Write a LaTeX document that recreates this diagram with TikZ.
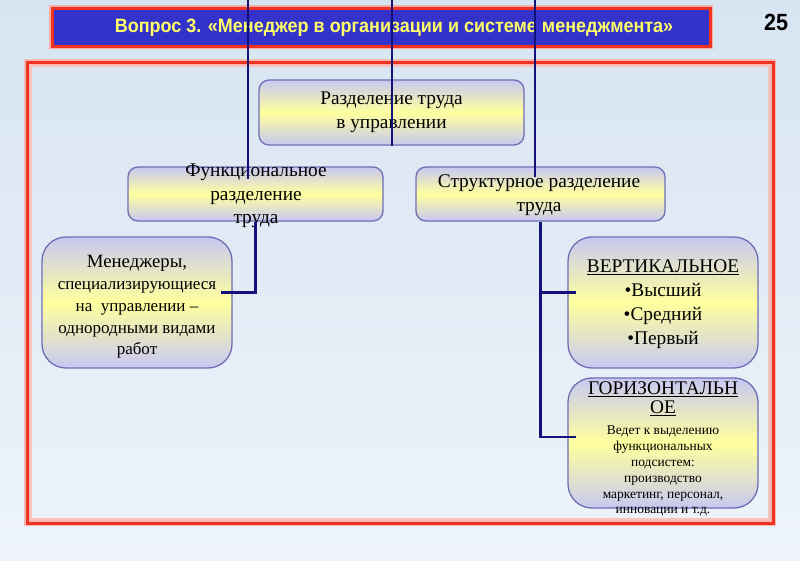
\documentclass[tikz,border=0pt]{standalone}
\usepackage{fontspec}
\setmainfont{Liberation Serif}
\newfontfamily\arialfont{Liberation Sans}
\usetikzlibrary{calc}

\newlength\px
\setlength\px{0.03cm}

\definecolor{bgblue}{HTML}{D7E4F2}
\definecolor{bglight}{HTML}{EEF4FA}
\definecolor{titleblue}{HTML}{3333CC}
\definecolor{titleyellow}{HTML}{FFFF66}
\definecolor{framered}{HTML}{EE3322}
\definecolor{boxedge}{HTML}{6E6EB4}
\definecolor{boxlav}{HTML}{C8C8F2}
\definecolor{boxyellow}{HTML}{FFFF9E}
\definecolor{linknavy}{HTML}{12127A}

\begin{document}
\begin{tikzpicture}[x=0.03cm, y=-0.03cm,
	box/.style={draw=boxedge, line width=1.3\px, rounded corners=10\px, top color=boxlav, bottom color=boxlav, middle color=boxyellow, inner sep=0pt},
	bigbox/.style={box, rounded corners=24\px},
	boxtext/.style={align=center, inner sep=0pt, font=\fontsize{16.5}{20.5}\selectfont},
	link/.style={draw=linknavy, line width=2.2\px},
	thinlink/.style={draw=linknavy, line width=1.4\px}]

				% Background
				\useasboundingbox (0,0) rectangle (800,561);
				\shade[top color=bgblue, bottom color=bglight] (0,0) rectangle (800,561);

				% Frame
				\draw[framered!35, line width=6\px] (27,62) rectangle (773,523);
				\draw[framered, line width=3\px] (27,62) rectangle (773,523);
				\draw[framered!30, line width=1.5\px] (31,66) rectangle (769,519);

				% Title
				\draw[framered!40, line width=6\px] (52,8) rectangle (710,46);
				\node[draw=framered, line width=3\px, fill=titleblue, minimum width=658\px, minimum height=38\px, inner sep=0pt] (title) at (381,27) {};
				\node[text=titleyellow, font=\arialfont\bfseries\fontsize{16.5}{19}\selectfont] (titletext) at (394,28) {\scalebox{0.93}[1]{Вопрос 3. «Менеджер в организации и системе менеджмента»}};
				\node[font=\arialfont\bfseries\fontsize{20}{24}\selectfont] (pagenum) at (776,22) {\scalebox{0.92}[1]{25}};

				% Division of labour
				\node[box, minimum width=265\px, minimum height=65\px, boxtext] (division) at (391.5,112.5) {Разделение труда\\в управлении};

				% Functional division
				\node[box, minimum width=255\px, minimum height=54\px] (func) at (255.5,194) {};
				\node[boxtext, font=\fontsize{16.5}{20}\selectfont] (functext) at (256,196) {Функциональное\\разделение\\труда};

				% Structural division
				\node[box, minimum width=249\px, minimum height=54\px] (struct) at (540.5,194) {};
				\node[boxtext] (structtext) at (539,195.5) {Структурное разделение\\труда};

				% Managers
				\node[bigbox, minimum width=190\px, minimum height=131\px] (mgr) at (137,302.5) {};
				\node[boxtext, font=\fontsize{14.5}{18.5}\selectfont] (mgrtext) at (137,307) {{\fontsize{16}{18.5}\selectfont Менеджеры,}\\специализирующиеся\\на \ управлении –\\однородными видами\\работ};

				% Vertical
				\node[bigbox, minimum width=190\px, minimum height=131\px] (vert) at (663,302.5) {};
				\node[boxtext] (verttext) at (663,304) {\underline{ВЕРТИКАЛЬНОЕ}\\•Высший\\•Средний\\•Первый};

				% Horizontal
				\node[bigbox, minimum width=190\px, minimum height=130\px] (horiz) at (663,443) {};
				\node[boxtext, font=\fontsize{11.5}{13.6}\selectfont] (horiztext) at (663,449) {{\fontsize{16.5}{18}\selectfont\underline{ГОРИЗОНТАЛЬН}}\\[3pt]{\fontsize{16.5}{18}\selectfont\underline{ОЕ}}\\[4pt]Ведет к выделению\\функциональных\\подсистем:\\производство\\маркетинг, персонал,\\инновации и т.д.};

				% Lines from the top edge
				\coordinate (topA) at (248,0);
				\coordinate (topB) at (392,0);
				\coordinate (topC) at (535,0);
				\draw[thinlink] (topA) -- ([yshift=-13\px]topA |- func.north);
				\draw[thinlink] (topB) -- (topB |- division.south);
				\draw[thinlink] (topC) -- ([yshift=-11\px]topC |- struct.north);

				% Links
				\draw[link] (func.south) |- ($(mgr.east)+(-12,-10)$);
				\draw[link] (struct.south) |- ($(horiz.west)+(9,-6)$);
				\draw[link] ($(struct.south |- vert.west)+(0,-10)$) -- ($(vert.west)+(9,-10)$);
			\end{tikzpicture}
\end{document}
